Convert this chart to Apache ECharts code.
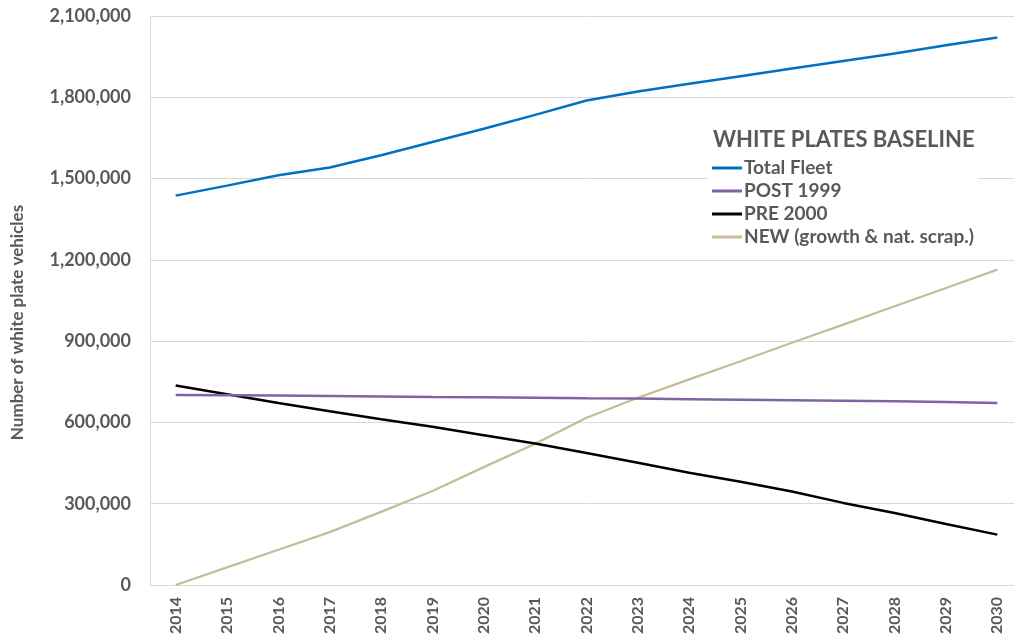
<!DOCTYPE html>
<html>
<head>
<meta charset="utf-8">
<script src="https://cdn.jsdelivr.net/npm/echarts@6/dist/echarts.min.js"></script>
<style>
html,body{margin:0;padding:0;background:#fff;overflow:hidden;}
#chart{width:1024px;height:644px;}
</style>
</head>
<body>
<div id="chart"></div>
<script>
const years = ['2014','2015','2016','2017','2018','2019','2020','2021','2022','2023','2024','2025','2026','2027','2028','2029','2030'];
const totalFleet = [1437000,1474000,1512000,1541000,1586000,1635000,1684000,1735000,1788000,1821000,1850000,1878000,1906000,1934000,1962000,1992000,2021000];
const post1999 = [701000,700000,699000,698000,696000,694000,693000,691000,689000,688000,686000,684000,682000,680000,678000,675000,672000];
const pre2000 = [736000,704000,672000,641000,612000,584000,553000,522000,487000,451000,414000,381000,345000,303000,266000,225000,186000];
const newVeh = [0,65000,130000,195000,270000,347000,435000,521000,617000,691000,759000,826000,894000,961000,1029000,1096000,1164000];
const seriesNames = ['Total Fleet','POST 1999','PRE 2000','NEW (growth & nat. scrap.)'];
const chartTitle = 'WHITE PLATES BASELINE';
const yAxisName = 'Number of white plate vehicles';

const colors = ['#0070C0','#8064A2','#000000','#C4BD97'];
const font = 'Lato, "Open Sans", sans-serif';
const grey = '#595959';

const chart = echarts.init(document.getElementById('chart'), null, {renderer:'canvas'});
const dataSets = [totalFleet, post1999, pre2000, newVeh];
chart.setOption({
  animation:false,
  backgroundColor:'#ffffff',
  color:colors,
  title:{
    text:chartTitle,
    left:708, top:124,
    textStyle:{fontFamily:font, fontWeight:'bold', fontSize:22, color:grey}
  },
  legend:{
    orient:'vertical',
    left:708, top:156,
    backgroundColor:'#ffffff',
    padding:[2,4,2,4],
    itemWidth:30, itemHeight:3, itemGap:3,
    icon:'rect',
    data:seriesNames,
    textStyle:{fontFamily:font, fontWeight:'bold', fontSize:19, color:grey, lineHeight:20, padding:[0,0,0,-3]}
  },
  grid:{left:150, top:16, right:1, height:569, containLabel:false},
  xAxis:{
    type:'category',
    data:years,
    boundaryGap:true,
    axisLine:{lineStyle:{color:'#D9D9D9', width:1}},
    axisTick:{show:false},
    axisLabel:{rotate:90, fontFamily:font, fontWeight:'bold', fontSize:16, color:grey, margin:12}
  },
  yAxis:{
    type:'value',
    min:0, max:2100000, interval:300000,
    name:yAxisName,
    nameLocation:'middle',
    nameGap:124,
    nameTextStyle:{fontFamily:font, fontWeight:'bold', fontSize:17, color:grey, padding:[0,0,0,-44]},
    axisLine:{show:true, lineStyle:{color:'#D9D9D9', width:1}},
    axisTick:{show:false},
    splitLine:{lineStyle:{color:'#D9D9D9', width:1}},
    axisLabel:{fontFamily:font, fontWeight:'bold', fontSize:18, color:grey, margin:19,
      formatter:v=>v.toLocaleString('en-US')}
  },
  series:dataSets.map((d,i)=>({
    name:seriesNames[i],
    type:'line',
    data:d,
    symbol:'none',
    smooth:false,
    z: [4,3,2,1][i],
    lineStyle:{width: i===3 ? 2.25 : 2.5, color:colors[i]}
  }))
});
</script>
</body>
</html>
